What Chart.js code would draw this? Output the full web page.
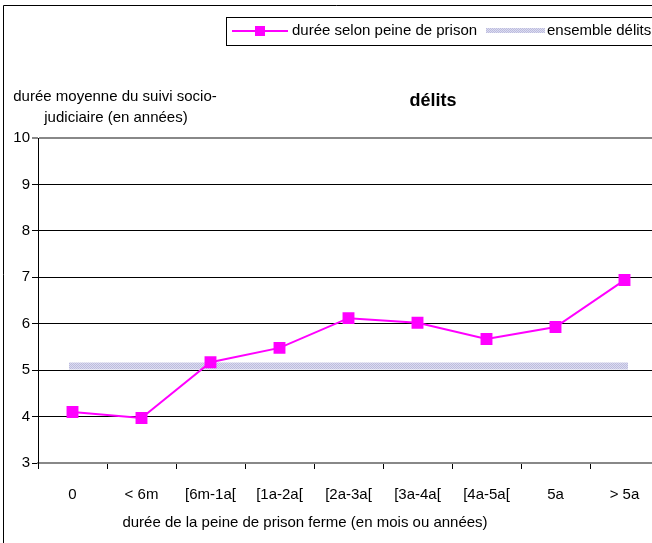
<!DOCTYPE html>
<html>
<head>
<meta charset="utf-8">
<script src="https://cdn.jsdelivr.net/npm/chart.js@4"></script>
<style>
  html, body { margin: 0; padding: 0; background: #fff; overflow: hidden; }
  #wrap { position: absolute; left: 0; top: 0; width: 670px; height: 543px; }
</style>
</head>
<body>
<div id="wrap"><canvas id="c" width="670" height="543"></canvas></div>
<script>
// catégories de durée de peine
const categories = ["0", "< 6m", "[6m-1a[", "[1a-2a[", "[2a-3a[", "[3a-4a[", "[4a-5a[", "5a", "> 5a"];
// durée moyenne du suivi selon la peine
const dureeSelonPeine = [4.10, 3.97, 5.17, 5.48, 6.12, 6.02, 5.67, 5.93, 6.94];
// moyenne ensemble délits
const ensembleDelits = [5.09, 5.09, 5.09, 5.09, 5.09, 5.09, 5.09, 5.09, 5.09];
const yTicks = [3, 4, 5, 6, 7, 8, 9, 10];

const FONT = "'Liberation Sans', Arial, sans-serif";

// motif pointillé lavande
function makePattern() {
  const p = document.createElement("canvas");
  p.width = 2; p.height = 2;
  const g = p.getContext("2d");
  g.fillStyle = "#dcdcf0"; g.fillRect(0, 0, 2, 2);
  g.fillStyle = "#bcbcde"; g.fillRect(0, 0, 1, 1); g.fillRect(1, 1, 1, 1);
  return g.createPattern(p, "repeat");
}

const ctx = document.getElementById("c").getContext("2d");
const lavande = makePattern();

const decor = {
  id: "decor",
  afterDraw(chart) {
    const c = chart.ctx;
    c.save();
    // cadre
    c.strokeStyle = "#000";
    c.lineWidth = 1;
    c.beginPath();
    c.moveTo(3.5, 543); c.lineTo(3.5, 5.5); c.lineTo(670, 5.5);
    c.stroke();

    // légende
    c.strokeRect(226.5, 17.5, 460, 28);
    c.strokeStyle = "#ff00ff";
    c.lineWidth = 2;
    c.beginPath(); c.moveTo(232, 31); c.lineTo(288, 31); c.stroke();
    c.fillStyle = "#ff00ff";
    c.fillRect(255, 26, 10, 10);
    c.fillStyle = lavande;
    c.fillRect(486, 28, 59, 5);
    c.fillStyle = "#000";
    c.font = "15px " + FONT;
    c.textBaseline = "middle";
    c.textAlign = "left";
    c.fillText("durée selon peine de prison", 292, 31);
    c.fillText("ensemble délits", 547, 31);

    // titre
    c.font = "bold 18px " + FONT;
    c.textAlign = "center";
    c.fillText("délits", 433, 101);

    // titre axe y
    c.font = "15px " + FONT;
    c.fillText("durée moyenne du suivi socio-", 115, 97);
    c.fillText("judiciaire (en années)", 116, 118);

    // titre axe x
    c.fillText("durée de la peine de prison ferme (en mois ou années)", 305, 523);
    c.restore();
  }
};

new Chart(ctx, {
  type: "line",
  data: {
    labels: categories,
    datasets: [
      {
        label: "durée selon peine de prison",
        data: dureeSelonPeine,
        borderColor: "#ff00ff",
        backgroundColor: "#ff00ff",
        borderWidth: 2,
        pointStyle: "rect",
        pointRadius: 7,
        pointHoverRadius: 7,
        tension: 0
      },
      {
        label: "ensemble délits",
        data: ensembleDelits,
        borderColor: lavande,
        borderWidth: 7,
        borderCapStyle: "square",
        pointRadius: 0,
        tension: 0
      }
    ]
  },
  options: {
    responsive: false,
    animation: false,
    events: [],
    layout: { padding: { left: 0, top: 138, right: 11, bottom: 0 } },
    plugins: { legend: { display: false }, title: { display: false }, tooltip: { enabled: false } },
    scales: {
      x: {
        type: "category",
        offset: true,
        afterFit: (s) => { s.height = 80; },
        grid: { offset: true, drawOnChartArea: false, drawTicks: true, tickLength: 6, color: "#000" },
        border: { color: "#888", width: 2 },
        ticks: { color: "#000", padding: 17, maxRotation: 0, autoSkip: false, font: { family: FONT, size: 15 } }
      },
      y: {
        min: 3,
        max: 10,
        afterFit: (s) => { s.width = 38; },
        afterBuildTicks: (s) => { s.ticks = yTicks.map(v => ({ value: v })); },
        grid: {
          color: (c) => (c.tick && c.tick.value === 10 ? "#888" : "#000"),
          lineWidth: (c) => (c.tick && c.tick.value === 10 ? 2 : 1),
          tickLength: 6
        },
        border: { color: "#000", width: 1 },
        ticks: { color: "#000", padding: 2, font: { family: FONT, size: 15 } }
      }
    }
  },
  plugins: [decor]
});
</script>
</body>
</html>
